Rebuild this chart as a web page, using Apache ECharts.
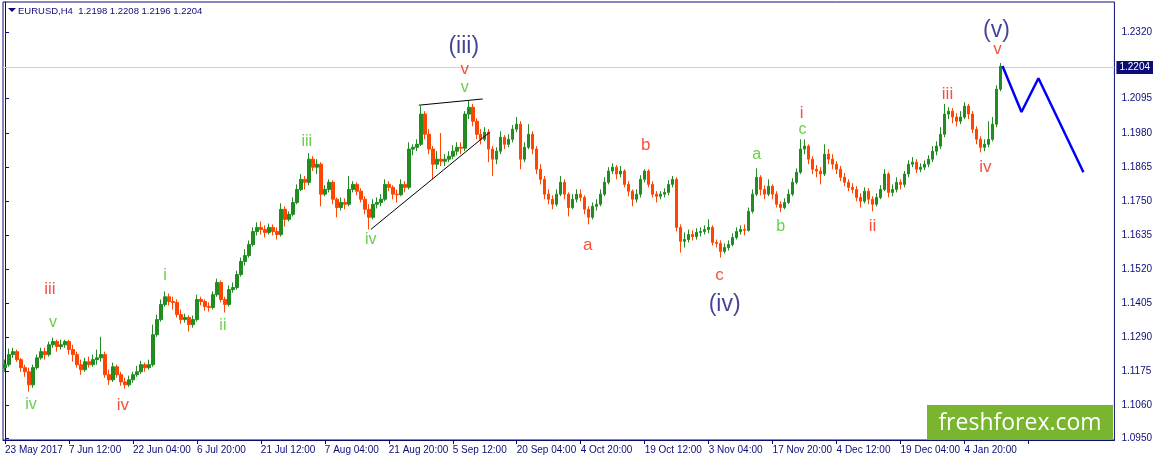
<!DOCTYPE html>
<html><head><meta charset="utf-8">
<script src="https://cdn.jsdelivr.net/npm/echarts@6/dist/echarts.min.js"></script>
<style>html,body{margin:0;padding:0;background:#fff}#c{width:1155px;height:462px}</style>
</head><body><div id="c"></div>
<script>
// ---- data (each bar = 4 H4 candles) ----
const symbolTitle = 'EURUSD,H4  1.2198 1.2208 1.2196 1.2204';
const xLabels = ['23 May 2017','7 Jun 12:00','22 Jun 04:00','6 Jul 20:00','21 Jul 12:00','7 Aug 04:00','21 Aug 20:00','5 Sep 12:00','20 Sep 04:00','4 Oct 20:00','19 Oct 12:00','3 Nov 04:00','17 Nov 20:00','4 Dec 12:00','19 Dec 04:00','4 Jan 20:00'];
const yTicks = [1.0950,1.1060,1.1175,1.1290,1.1405,1.1520,1.1635,1.1750,1.1865,1.1980,1.2095,1.2320];
const opens = [
1.1188,1.1198,1.1232,1.1242,1.1215,1.1188,1.1174,1.1130,1.1188,1.1221,
1.1242,1.1232,1.1265,1.1276,1.1259,1.1265,1.1276,1.1249,1.1232,1.1198,
1.1181,1.1208,1.1198,1.1215,1.1221,1.1232,1.1164,1.1147,1.1191,1.1164,
1.1140,1.1130,1.1147,1.1164,1.1174,1.1198,1.1188,1.1198,1.1299,1.1350,
1.1401,1.1427,1.1411,1.1408,1.1367,1.1350,1.1357,1.1333,1.1350,1.1418,
1.1411,1.1394,1.1391,1.1434,1.1475,1.1418,1.1401,1.1451,1.1458,1.1502,
1.1546,1.1566,1.1603,1.1647,1.1661,1.1654,1.1644,1.1661,1.1647,1.1637,
1.1722,1.1688,1.1705,1.1745,1.1789,1.1823,1.1813,1.1891,1.1864,1.1874,
1.1773,1.1789,1.1813,1.1756,1.1728,1.1745,1.1739,1.1789,1.1806,1.1783,
1.1756,1.1722,1.1695,1.1739,1.1745,1.1756,1.1806,1.1796,1.1773,1.1771,
1.1806,1.1796,1.1925,1.1931,1.1941,1.2043,1.1975,1.1925,1.1874,1.1891,
1.1884,1.1891,1.1901,1.1918,1.1931,1.1928,1.2043,1.2066,1.2019,1.1975,
1.1958,1.1982,1.1925,1.1891,1.1918,1.1965,1.1941,1.1958,1.1992,1.2009,
1.1891,1.1931,1.1975,1.1925,1.1857,1.1823,1.1773,1.1756,1.1739,1.1773,
1.1813,1.1773,1.1728,1.1756,1.1773,1.1762,1.1722,1.1695,1.1732,1.1739,
1.1773,1.1813,1.1851,1.1864,1.1841,1.1851,1.1806,1.1783,1.1756,1.1773,
1.1823,1.1851,1.1806,1.1773,1.1766,1.1773,1.1779,1.1806,1.1823,1.1661,
1.1614,1.1620,1.1637,1.1630,1.1644,1.1647,1.1654,1.1661,1.1610,1.1607,
1.1580,1.1593,1.1603,1.1627,1.1647,1.1654,1.1651,1.1715,1.1773,1.1830,
1.1789,1.1773,1.1800,1.1773,1.1739,1.1728,1.1745,1.1773,1.1813,1.1847,
1.1925,1.1935,1.1891,1.1857,1.1851,1.1841,1.1908,1.1891,1.1874,1.1857,
1.1830,1.1813,1.1796,1.1789,1.1762,1.1749,1.1783,1.1756,1.1739,1.1762,
1.1789,1.1841,1.1779,1.1789,1.1813,1.1806,1.1841,1.1874,1.1881,1.1857,
1.1864,1.1874,1.1891,1.1918,1.1935,1.1975,1.2043,1.2053,1.2033,1.2019,
1.2033,1.2070,1.2043,1.1992,1.1958,1.1931,1.1941,1.1958,1.2009,1.2127];
const closes = [
1.1198,1.1232,1.1242,1.1215,1.1188,1.1174,1.1130,1.1188,1.1221,1.1242,
1.1232,1.1265,1.1276,1.1259,1.1265,1.1276,1.1249,1.1232,1.1198,1.1181,
1.1208,1.1198,1.1215,1.1221,1.1232,1.1164,1.1147,1.1191,1.1164,1.1140,
1.1130,1.1147,1.1164,1.1174,1.1198,1.1188,1.1198,1.1299,1.1350,1.1401,
1.1427,1.1411,1.1408,1.1367,1.1350,1.1357,1.1333,1.1350,1.1418,1.1411,
1.1394,1.1391,1.1434,1.1475,1.1418,1.1401,1.1451,1.1458,1.1502,1.1546,
1.1566,1.1603,1.1647,1.1661,1.1654,1.1644,1.1661,1.1647,1.1637,1.1722,
1.1688,1.1705,1.1745,1.1789,1.1823,1.1813,1.1891,1.1864,1.1874,1.1773,
1.1789,1.1813,1.1756,1.1728,1.1745,1.1739,1.1789,1.1806,1.1783,1.1756,
1.1722,1.1695,1.1739,1.1745,1.1756,1.1806,1.1796,1.1773,1.1771,1.1806,
1.1796,1.1925,1.1931,1.1941,1.2043,1.1975,1.1925,1.1874,1.1891,1.1884,
1.1891,1.1901,1.1918,1.1931,1.1928,1.2043,1.2066,1.2019,1.1975,1.1958,
1.1982,1.1925,1.1891,1.1918,1.1965,1.1941,1.1958,1.1992,1.2009,1.1891,
1.1931,1.1975,1.1925,1.1857,1.1823,1.1773,1.1756,1.1739,1.1773,1.1813,
1.1773,1.1728,1.1756,1.1773,1.1762,1.1722,1.1695,1.1732,1.1739,1.1773,
1.1813,1.1851,1.1864,1.1841,1.1851,1.1806,1.1783,1.1756,1.1773,1.1823,
1.1851,1.1806,1.1773,1.1766,1.1773,1.1779,1.1806,1.1823,1.1661,1.1614,
1.1620,1.1637,1.1630,1.1644,1.1647,1.1654,1.1661,1.1610,1.1607,1.1580,
1.1593,1.1603,1.1627,1.1647,1.1654,1.1651,1.1715,1.1773,1.1830,1.1789,
1.1773,1.1800,1.1773,1.1739,1.1728,1.1745,1.1773,1.1813,1.1847,1.1925,
1.1935,1.1891,1.1857,1.1851,1.1841,1.1908,1.1891,1.1874,1.1857,1.1830,
1.1813,1.1796,1.1789,1.1762,1.1749,1.1783,1.1756,1.1739,1.1762,1.1789,
1.1841,1.1779,1.1789,1.1813,1.1806,1.1841,1.1874,1.1881,1.1857,1.1864,
1.1874,1.1891,1.1918,1.1935,1.1975,1.2043,1.2053,1.2033,1.2019,1.2033,
1.2070,1.2043,1.1992,1.1958,1.1931,1.1941,1.1958,1.2009,1.2127,1.2204];
const lows = [
1.1174,1.1191,1.1221,1.1208,1.1174,1.1157,1.1107,1.1120,1.1181,1.1215,
1.1215,1.1225,1.1255,1.1242,1.1249,1.1255,1.1232,1.1208,1.1188,1.1164,
1.1174,1.1188,1.1191,1.1198,1.1208,1.1154,1.1130,1.1140,1.1154,1.1127,
1.1117,1.1123,1.1137,1.1157,1.1167,1.1174,1.1181,1.1191,1.1292,1.1343,
1.1394,1.1398,1.1384,1.1357,1.1336,1.1340,1.1310,1.1323,1.1343,1.1398,
1.1380,1.1377,1.1384,1.1427,1.1408,1.1374,1.1394,1.1441,1.1451,1.1495,
1.1532,1.1559,1.1597,1.1634,1.1637,1.1627,1.1637,1.1634,1.1620,1.1630,
1.1664,1.1681,1.1698,1.1739,1.1783,1.1789,1.1803,1.1851,1.1841,1.1732,
1.1766,1.1779,1.1739,1.1695,1.1718,1.1722,1.1732,1.1779,1.1769,1.1745,
1.1705,1.1654,1.1688,1.1725,1.1732,1.1749,1.1783,1.1756,1.1745,1.1766,
1.1779,1.1789,1.1904,1.1918,1.1935,1.1958,1.1908,1.1823,1.1857,1.1868,
1.1868,1.1881,1.1891,1.1904,1.1908,1.1918,1.2026,1.2002,1.1958,1.1941,
1.1951,1.1881,1.1834,1.1874,1.1908,1.1925,1.1931,1.1948,1.1982,1.1857,
1.1881,1.1925,1.1908,1.1841,1.1806,1.1756,1.1739,1.1722,1.1732,1.1766,
1.1756,1.1698,1.1722,1.1745,1.1749,1.1705,1.1671,1.1688,1.1718,1.1732,
1.1766,1.1806,1.1841,1.1823,1.1830,1.1796,1.1766,1.1732,1.1745,1.1762,
1.1813,1.1796,1.1762,1.1745,1.1756,1.1762,1.1769,1.1796,1.1647,1.1576,
1.1593,1.1610,1.1617,1.1620,1.1630,1.1637,1.1641,1.1600,1.1593,1.1559,
1.1573,1.1583,1.1597,1.1620,1.1637,1.1634,1.1647,1.1708,1.1766,1.1769,
1.1756,1.1766,1.1756,1.1728,1.1712,1.1722,1.1739,1.1766,1.1806,1.1841,
1.1908,1.1874,1.1841,1.1830,1.1806,1.1834,1.1874,1.1857,1.1841,1.1817,
1.1800,1.1783,1.1776,1.1749,1.1728,1.1742,1.1739,1.1715,1.1732,1.1756,
1.1783,1.1762,1.1766,1.1779,1.1789,1.1796,1.1830,1.1864,1.1844,1.1847,
1.1854,1.1864,1.1881,1.1904,1.1925,1.1965,1.2026,1.2012,1.2002,1.2009,
1.2026,1.2026,1.1979,1.1941,1.1914,1.1918,1.1931,1.1951,1.1999,1.2120];
const highs = [
1.1215,1.1252,1.1255,1.1249,1.1221,1.1198,1.1188,1.1198,1.1232,1.1255,
1.1255,1.1276,1.1289,1.1282,1.1282,1.1282,1.1282,1.1265,1.1242,1.1215,
1.1221,1.1225,1.1232,1.1249,1.1292,1.1242,1.1181,1.1205,1.1198,1.1174,
1.1154,1.1161,1.1174,1.1194,1.1211,1.1205,1.1215,1.1333,1.1367,1.1418,
1.1445,1.1438,1.1427,1.1418,1.1384,1.1370,1.1364,1.1364,1.1434,1.1427,
1.1418,1.1408,1.1445,1.1488,1.1482,1.1427,1.1465,1.1475,1.1515,1.1559,
1.1587,1.1617,1.1661,1.1678,1.1681,1.1668,1.1674,1.1671,1.1661,1.1742,
1.1732,1.1715,1.1762,1.1806,1.1841,1.1834,1.1911,1.1901,1.1891,1.1881,
1.1803,1.1823,1.1820,1.1762,1.1762,1.1759,1.1834,1.1817,1.1813,1.1793,
1.1766,1.1739,1.1756,1.1762,1.1773,1.1823,1.1817,1.1803,1.1789,1.1823,
1.1817,1.1948,1.1941,1.1958,1.2070,1.2053,1.1992,1.1935,1.1918,1.1979,
1.1908,1.1918,1.1938,1.1948,1.1948,1.2053,1.2087,1.2077,1.2029,1.1992,
1.1999,1.1992,1.1935,1.1931,1.1985,1.1972,1.1975,1.2006,1.2033,1.2019,
1.1948,1.2009,1.1985,1.1935,1.1874,1.1834,1.1789,1.1769,1.1789,1.1834,
1.1823,1.1779,1.1773,1.1789,1.1789,1.1769,1.1732,1.1745,1.1756,1.1789,
1.1830,1.1864,1.1877,1.1871,1.1868,1.1857,1.1817,1.1789,1.1789,1.1837,
1.1857,1.1857,1.1817,1.1783,1.1783,1.1793,1.1820,1.1834,1.1830,1.1671,
1.1644,1.1654,1.1651,1.1658,1.1661,1.1668,1.1688,1.1668,1.1620,1.1617,
1.1607,1.1617,1.1641,1.1661,1.1668,1.1671,1.1728,1.1789,1.1860,1.1837,
1.1803,1.1823,1.1806,1.1783,1.1749,1.1759,1.1789,1.1827,1.1860,1.1958,
1.1958,1.1941,1.1901,1.1871,1.1864,1.1941,1.1925,1.1908,1.1884,1.1868,
1.1844,1.1823,1.1810,1.1800,1.1776,1.1796,1.1793,1.1766,1.1776,1.1803,
1.1857,1.1847,1.1806,1.1830,1.1823,1.1851,1.1887,1.1898,1.1891,1.1877,
1.1887,1.1904,1.1935,1.1951,1.1999,1.2077,1.2066,1.2063,1.2046,1.2053,
1.2083,1.2077,1.2053,1.2002,1.1968,1.1958,1.2019,1.2033,1.2140,1.2215];
const currentPrice = 1.2204;
// wave labels: [text, bar index, price]
const greenWaves = [['iv',6.5,1.1064],['v',12,1.1340],['i',40,1.1499],['ii',54.5,1.1330],['iii',75.5,1.1951],['iv',91.5,1.1620],['v',115,1.2134],['a',188,1.1908],['b',194,1.1664],['c',199.5,1.1992]];
const redWaves = [['iii',11.25,1.1451],['iv',29.5,1.1061],['v',115,1.2195],['a',145.75,1.1600],['b',160.25,1.1938],['c',178.75,1.1499],['i',199.25,1.2046],['ii',217,1.1664],['iii',235.75,1.2110],['iv',245.25,1.1864],['v',248.25,1.2263]];
const navyWaves = [['(iii)',114.75,1.2270],['(iv)',180,1.1401],['(v)',248,1.2323]];
// drawn lines: [bar index, price]
const wedgeUpper = [[103.5,1.2073],[119.5,1.2094]];
const wedgeLower = [[91.5,1.1654],[121.25,1.1982]];
const forecast = [[249.5,1.2205],[254.25,1.2050],[258.5,1.2164],[269.75,1.1847]];
const totalSlots = 278;

// ---- build ----
const cats = Array.from({length: totalSlots}, (_, i) => String(i));
const candle = opens.map((o, i) => [o, closes[i], lows[i], highs[i]]);
const NAVY = '#0c0c78';
const FONT = 'Liberation Sans';
function waveSeries(list, color, size) {
  return {
    type: 'scatter', xAxisIndex: 1, yAxisIndex: 0, symbolSize: 1, silent: true, z: 5,
    itemStyle: {color: 'rgba(0,0,0,0)'},
    data: list.map(d => ({value: [d[1], d[2]], name: d[0]})),
    label: {show: true, position: 'inside', formatter: p => p.name, color: color, fontSize: size, fontFamily: FONT}
  };
}
const chart = echarts.init(document.getElementById('c'), null, {renderer: 'canvas'});
chart.setOption({
  animation: false,
  backgroundColor: '#ffffff',
  grid: {left: 3, right: 40, top: 2, bottom: 22, show: true, borderColor: NAVY, borderWidth: 1, backgroundColor: 'transparent'},
  xAxis: [{
    type: 'category', data: cats, boundaryGap: true,
    axisLine: {lineStyle: {color: NAVY}},
    axisTick: {show: true, alignWithLabel: true, length: 4, interval: i => i % 16 === 0, lineStyle: {color: NAVY}},
    axisLabel: {interval: i => i % 16 === 0, formatter: (v, i) => (i % 16 === 0 && xLabels[i / 16]) ? xLabels[i / 16] : '',
      align: 'left', margin: 5, color: NAVY, fontSize: 10, fontFamily: FONT, showMaxLabel: false},
    splitLine: {show: false}
  }, {
    type: 'value', min: -0.5, max: totalSlots - 0.5, show: false
  }],
  yAxis: {
    type: 'value', position: 'right', min: 1.0944, max: 1.2421, scale: true,
    axisLine: {show: true, lineStyle: {color: NAVY}},
    axisTick: {show: true, length: 4, customValues: yTicks, lineStyle: {color: NAVY}},
    axisLabel: {customValues: yTicks, formatter: v => v.toFixed(4), color: NAVY, fontSize: 10, fontFamily: FONT, margin: 7},
    splitLine: {show: false}
  },
  series: [
    {
      type: 'candlestick', data: candle, barWidth: 3, z: 3,
      itemStyle: {color: '#228b22', color0: '#ff4500', borderColor: '#228b22', borderColor0: '#ff4500', borderWidth: 1},
      markLine: {
        silent: true, symbol: 'none', z: 1,
        lineStyle: {color: '#d0d0d0', type: 'solid', width: 1},
        data: [{yAxis: currentPrice}],
        label: {show: true, position: 'end', distance: 2, formatter: () => currentPrice.toFixed(4),
          backgroundColor: NAVY, color: '#ffffff', padding: [2, 3, 1, 3], fontSize: 10, fontFamily: FONT}
      }
    },
    {type: 'line', xAxisIndex: 1, data: wedgeUpper, symbol: 'none', silent: true, lineStyle: {color: '#000', width: 1}, z: 4},
    {type: 'line', xAxisIndex: 1, data: wedgeLower, symbol: 'none', silent: true, lineStyle: {color: '#000', width: 1}, z: 4},
    {type: 'line', xAxisIndex: 1, data: forecast, symbol: 'none', silent: true, lineStyle: {color: '#0000ff', width: 2.5}, z: 4},
    waveSeries(greenWaves, '#44c21e', 16),
    waveSeries(redWaves, '#f2240e', 17),
    waveSeries(navyWaves, '#14147a', 23)
  ],
  graphic: [
    {type: 'polygon', left: 8, top: 8, shape: {points: [[0, 0], [8, 0], [4, 4]]}, style: {fill: NAVY}},
    {type: 'text', left: 18, top: 6, style: {text: symbolTitle, fill: NAVY, font: '9.5px "Liberation Sans"'}},
    {
    type: 'group', right: 42, bottom: 22,
    children: [
      {type: 'rect', shape: {x: 0, y: 0, width: 186, height: 35}, style: {fill: '#7ab530'}},
      {type: 'text', x: 93, y: 18, style: {text: 'freshforex.com', fill: '#ffffff', font: '23px "Open Sans", sans-serif', textAlign: 'center', textVerticalAlign: 'middle'}}
    ]
  }]
});
</script></body></html>
